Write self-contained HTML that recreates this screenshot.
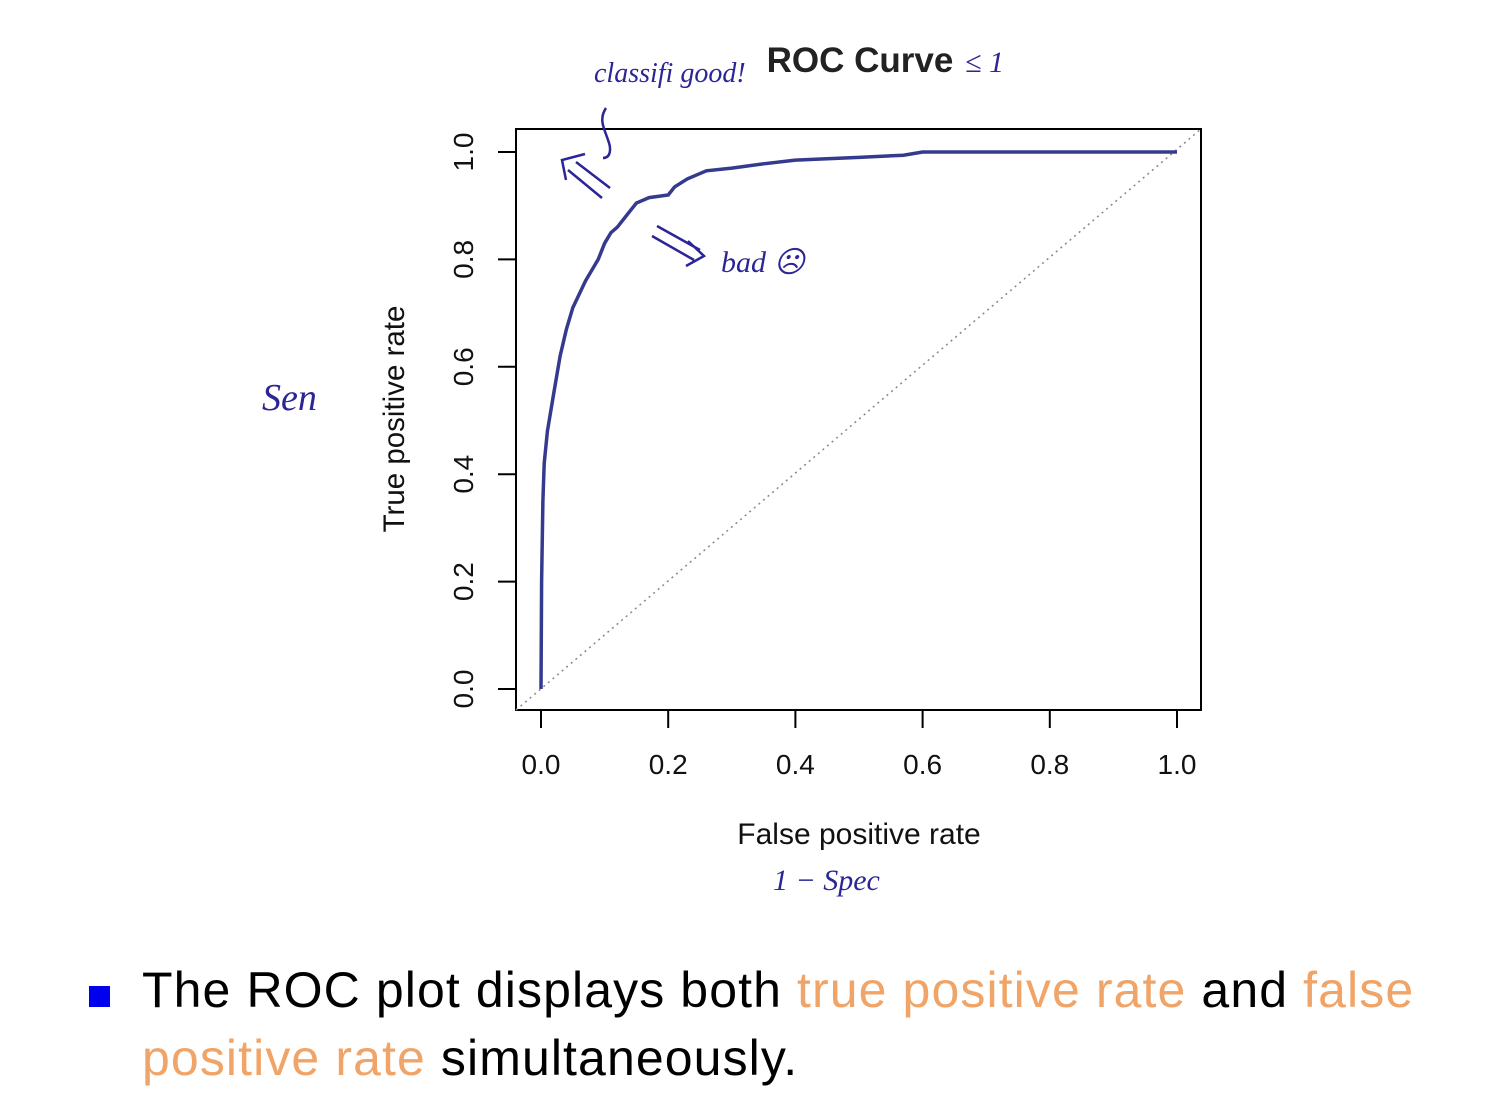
<!DOCTYPE html>
<html><head><meta charset="utf-8"><style>
html,body{margin:0;padding:0;background:#fff;}
body{width:1508px;height:1112px;position:relative;overflow:hidden;font-family:"Liberation Sans",sans-serif;}
.hand{font-family:"Liberation Serif",serif;font-style:italic;fill:#2b2596;}
#para{position:absolute;left:142px;top:956px;font-size:50px;letter-spacing:1.1px;line-height:68px;color:#000;width:1300px;}
.or{color:#f0a467;}
#bullet{position:absolute;left:89px;top:986px;width:21px;height:21px;background:#0000ee;}
</style></head><body>
<svg id="chart" width="1508" height="940" style="position:absolute;left:0;top:0">
<text x="860" y="72" font-size="35" font-weight="bold" text-anchor="middle" fill="#222">ROC Curve</text>
<rect x="516" y="129" width="685" height="581" fill="none" stroke="#000" stroke-width="2"/>
<g id="xaxis"></g>
<g id="yaxis"></g>
<line x1="516" y1="710" x2="1201" y2="129" stroke="#888" stroke-width="1.5" stroke-dasharray="2,4"/>
<path id="roc" fill="none" stroke="#343a8e" stroke-width="3.5"/>
<text x="859" y="844" font-size="30" text-anchor="middle" fill="#111">False positive rate</text>
<text transform="translate(404,419) rotate(-90)" font-size="29.5" text-anchor="middle" fill="#111">True positive rate</text>
<text class="hand" x="594" y="82" font-size="28">classifi good!</text>
<text class="hand" x="965" y="72" font-size="30">≤ 1</text>
<text class="hand" x="721" y="272" font-size="30">bad ☹</text>
<text class="hand" x="262" y="410" font-size="38">Sen</text>
<text class="hand" x="773" y="890" font-size="30">1 − Spec</text>
<g stroke="#2b2596" stroke-width="2.5" fill="none">
<path d="M606 108 C598 120,605 130,608 140 C612 150,610 158,603 158"/>
<path d="M576 162 L610 188 M568 170 L602 198 M585 154 L562 160 L566 180"/>
<path d="M657 226 L700 250 M652 236 L694 260 M688 241 L704 256 L686 266"/>
</g>
</svg>
<div id="bullet"></div>
<div id="para">The ROC plot displays both <span class="or">true positive rate</span> and <span class="or">false positive rate</span> simultaneously.</div>
<script>
const fpr=[0,0.001,0.003,0.005,0.01,0.02,0.03,0.04,0.05,0.07,0.09,0.1,0.11,0.12,0.13,0.14,0.15,0.17,0.2,0.21,0.23,0.26,0.3,0.35,0.4,0.5,0.57,0.6,0.8,1.0];
const tpr=[0,0.2,0.35,0.42,0.48,0.55,0.62,0.67,0.71,0.76,0.8,0.83,0.85,0.86,0.875,0.89,0.905,0.915,0.92,0.935,0.95,0.965,0.97,0.978,0.985,0.99,0.994,1.0,1.0,1.0];
const xTicks=[0,0.2,0.4,0.6,0.8,1.0];
const yTicks=[0,0.2,0.4,0.6,0.8,1.0];
const sx=v=>541+v*636, sy=v=>689-v*537;
const NS="http://www.w3.org/2000/svg";
let d="";
for(let i=0;i<fpr.length;i++){d+=(i?"L":"M")+sx(fpr[i]).toFixed(1)+" "+sy(tpr[i]).toFixed(1);}
document.getElementById('roc').setAttribute('d',d);
const xa=document.getElementById('xaxis'),ya=document.getElementById('yaxis');
xTicks.forEach(t=>{
 const l=document.createElementNS(NS,'line');
 
 
 l.setAttribute('x1',sx(t));l.setAttribute('x2',sx(t));l.setAttribute('y1',710);l.setAttribute('y2',728);
 l.setAttribute('stroke','#000');l.setAttribute('stroke-width','2');xa.appendChild(l);
 const tx=document.createElementNS(NS,'text');
 
 
 tx.setAttribute('x',sx(t));tx.setAttribute('y',774);tx.setAttribute('font-size','28');tx.setAttribute('text-anchor','middle');tx.setAttribute('fill','#111');
 tx.textContent=t.toFixed(1);xa.appendChild(tx);
});
yTicks.forEach(t=>{
 const l=document.createElementNS(NS,'line');
 
 
 l.setAttribute('x1',498);l.setAttribute('x2',516);l.setAttribute('y1',sy(t));l.setAttribute('y2',sy(t));
 l.setAttribute('stroke','#000');l.setAttribute('stroke-width','2');ya.appendChild(l);
 const tx=document.createElementNS(NS,'text');
 
 
 tx.setAttribute('transform','translate(473,'+sy(t)+') rotate(-90)');tx.setAttribute('font-size','28');tx.setAttribute('text-anchor','middle');tx.setAttribute('fill','#111');
 tx.textContent=t.toFixed(1);ya.appendChild(tx);
});
</script>
</body></html>
